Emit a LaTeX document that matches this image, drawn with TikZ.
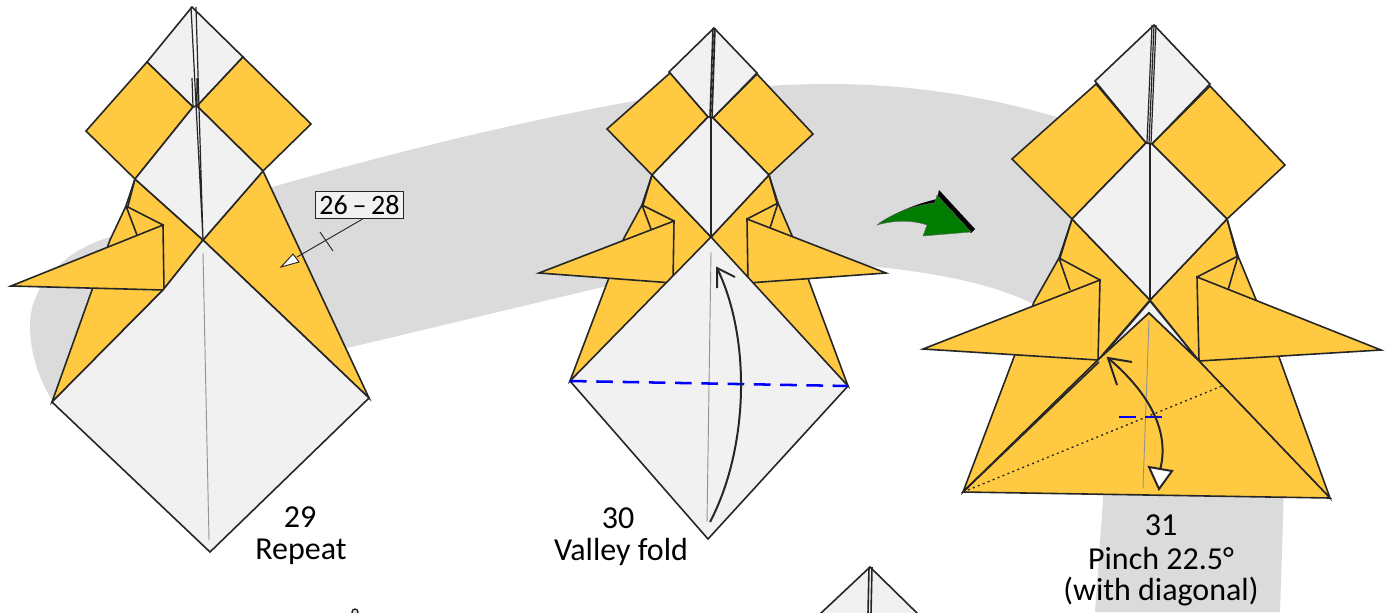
\documentclass[tikz,border=0pt]{standalone}
\usepackage{fontspec}
\setmainfont{Carlito}
\usetikzlibrary{arrows.meta}
\definecolor{gold}{HTML}{FFCA42}
\definecolor{paper}{HTML}{F1F1F1}
\definecolor{band}{HTML}{DBDBDB}
\definecolor{ink}{HTML}{262626}
\tikzset{
  ln/.style={draw=ink,line width=1.2pt,line join=miter},
  au/.style={ln,fill=gold},
  wh/.style={ln,fill=paper},
  spine/.style={draw=ink,line width=0.9pt},
  crease/.style={draw=gray!85,line width=0.7pt},
  valley/.style={draw=blue,line width=1.9pt,dash pattern=on 12.5pt off 7.2pt},
  caption/.style={font=\fontsize{24}{28}\selectfont,text=black,inner sep=0pt,align=center},
  foldarrow/.style={draw=ink,line width=1.5pt},
}
\begin{document}
\begin{tikzpicture}[x=0.75pt,y=-0.75pt]
\useasboundingbox (0,0) rectangle (1390,612);
% grey swoosh
\fill[band] (60,412) .. controls (40,385) and (30,355) .. (30,325)
  .. controls (30,285) and (65,250) .. (110,237)
  .. controls (270,184) and (470,130) .. (640,100)
  .. controls (700,90) and (770,84) .. (830,84)
  .. controls (920,84) and (1000,100) .. (1060,118)
  .. controls (1180,170) and (1290,350) .. (1283,520)
  -- (1280,612) -- (1095,612) -- (1103,500)
  .. controls (1100,400) and (1070,325) .. (1033,304)
  .. controls (1000,287) and (950,275) .. (887,268)
  .. controls (800,258) and (700,265) .. (590,290)
  -- (360,345) -- cycle;

% ---------- figure 29
\path[au] (52,402) -- (92,290) -- (110,240) -- (126,206) -- (135,179) -- (203,240) -- (163,290) -- cycle;
\draw[ln] (135,179) -- (128,206) (126,206) -- (163,225) (126,206) -- (137,235);
\path[au] (11,286) -- (163,225) -- (164,290) -- cycle;
\path[au] (263,171) -- (369,398) -- (203,240) -- cycle;
\path[wh] (52,402) -- (163,290) -- (203,240) -- (369,398) -- (210,552) -- cycle;
\path[crease] (203,253) -- (209,540);
\path[wh] (192,7) -- (243,57) -- (197,106) -- (193,107) -- (147,62) -- cycle;
\path[au] (147,62) -- (193,107) -- (135,179) -- (86,131) -- cycle;
\path[au] (243,57) -- (311,124) -- (263,171) -- (197,106) -- cycle;
\path[wh] (193,107) -- (197,106) -- (263,171) -- (203,240) -- (135,179) -- cycle;
\draw[spine] (191,7) -- (203,240) (196,7) -- (203,240) (192,78) -- (193,107) (197,78) -- (197,106);
\node[caption] (n29) at (300,517) {29};
\node[caption] (t29) at (301,552) {Repeat};
\node[caption,font={\fontsize{21}{24}\selectfont\spaceskip=0.17em\relax},draw=ink,line width=0.6pt,fill=paper,minimum width=66pt,minimum height=20.5pt] (ref) at (359.5,205) {26 – 28};
\coordinate (refend) at (297,257);
\coordinate (tickA) at (320,232);
\coordinate (tickB) at (333,251);
\draw[ink,line width=0.7pt] (ref.south) ++(3,0) -- (refend);
\draw[ink,line width=0.7pt] (tickA) -- (tickB);
\path[ln,line width=0.7pt,fill=white] (281,267) -- (293,254) -- (299,262) -- cycle;

% ---------- figure 30
\path[au] (570,381) -- (624,238) -- (642,205) -- (652,175) -- (711,237) -- (673,283) -- cycle;
\draw[ln] (652,175) -- (643,205) (642,205) -- (674,221) (642,205) -- (651,229);
\path[au] (539,273) -- (674,221) -- (673,283) -- cycle;
\path[au] (848,386) -- (793,238) -- (778,203) -- (769,175) -- (711,237) -- (748,283) -- cycle;
\draw[ln] (769,175) -- (777,203) (778,203) -- (747,219) (778,203) -- (770,228);
\path[au] (886,273) -- (747,219) -- (748,283) -- cycle;
\path[wh] (570,381) -- (711,237) -- (848,386) -- (708,539) -- cycle;
\path[crease] (711,252) -- (707,522);
\path[wh] (714,28) -- (757,73) -- (713,118) -- (708,117) -- (669,72) -- cycle;
\path[au] (670,73) -- (708,117) -- (652,175) -- (607,129) -- cycle;
\path[au] (757,74) -- (813,134) -- (769,175) -- (713,118) -- cycle;
\path[wh] (708,117) -- (713,118) -- (769,175) -- (711,237) -- (652,175) -- cycle;
\draw[ln] (713,28) -- (710,118) (715,28) -- (712,118) (711,118) -- (711,237);
\path[valley] (570,381) -- (848,386);
\draw[foldarrow] (710,522) .. controls (748,450) and (752,340) .. (717,268);
\draw[foldarrow] (717,288) -- (717,268) -- (735,277);
\node[caption] (n30) at (618,518) {30};
\node[caption] (t30) at (621,552) {Valley fold};

% ---------- green arrow
\fill[black] (879,223) .. controls (900,210) and (920,203) .. (937,199) -- (939,190) -- (975,229) -- (971,233) -- (936,202) -- cycle;
\path[draw=black!60,line width=0.3pt,fill={rgb,255:red,0;green,125;blue,0}] (877,225) .. controls (895,212) and (915,205) .. (935,203) -- (937,195) -- (971,232) -- (923,236) -- (927,225) .. controls (912,220) and (895,220) .. (877,225) -- cycle;

% ---------- figure 31
\path[au] (963,492) -- (1014,357) -- (1034,302) -- (1059,258) -- (1072,219) -- (1150,300) -- (1098,360) -- cycle;
\draw[ln] (1072,219) -- (1060,258) (1059,258) -- (1100,280) (1059,258) -- (1070,290);
\path[au] (923,349) -- (1100,280) -- (1098,360) -- cycle;
\path[au] (1330,498) -- (1279,357) -- (1257,302) -- (1238,256) -- (1227,219) -- (1150,300) -- (1199,361) -- cycle;
\draw[ln] (1227,219) -- (1237,256) (1238,256) -- (1197,277) (1238,256) -- (1228,290);
\path[au] (1381,350) -- (1197,277) -- (1199,361) -- cycle;
\path[wh] (1150,301) -- (1199,361) -- (1149,313) -- (1099,360) -- cycle;
\path[au] (963,492) -- (1099,359) -- (1149,313) -- (1199,361) -- (1330,498) -- cycle;
\draw[ln] (964,491) -- (1099,362);
\path[crease] (1149,320) -- (1143,488);
\path[wh] (1154,25) -- (1210,84) -- (1152,144) -- (1146,143) -- (1095,81) -- cycle;
\path[au] (1096,84) -- (1146,143) -- (1072,219) -- (1012,159) -- cycle;
\path[au] (1210,86) -- (1285,165) -- (1227,219) -- (1152,144) -- cycle;
\path[wh] (1146,143) -- (1152,144) -- (1227,219) -- (1150,300) -- (1072,219) -- cycle;
\draw[spine] (1152,25) -- (1147,142) (1154,25) -- (1149,144) (1156,25) -- (1151,144);
\draw[ln] (1150,144) -- (1150,300);
\draw[ink,line width=1pt,dash pattern=on 1.5pt off 2.5pt] (963,492) -- (1222,386);
\draw[blue,line width=1.9pt] (1119,417) -- (1136,417) (1145,417) -- (1162,417);
\draw[foldarrow] (1108,358) .. controls (1140,385) and (1172,425) .. (1160,470);
\draw[foldarrow] (1117,385) -- (1108,358) -- (1132,362);
\path[ln,line width=1.5pt,fill=white] (1159,489) -- (1149,467) -- (1172,471) -- cycle;
\node[caption] (n31) at (1161,525) {31};
\node[caption] (t31) at (1161,559) {Pinch 22.5°};
\node[caption] (w31) at (1161,592) {(with diagonal)};

% ---------- next figures, cut by the page
\path[wh] (870,567) -- (918,614) -- (820,614) -- cycle;
\draw[ln] (869,567) -- (868,614) (872,567) -- (871,614);
\draw[ink,line width=1pt,fill=band] (355,612) circle (3);
\end{tikzpicture}
\end{document}
